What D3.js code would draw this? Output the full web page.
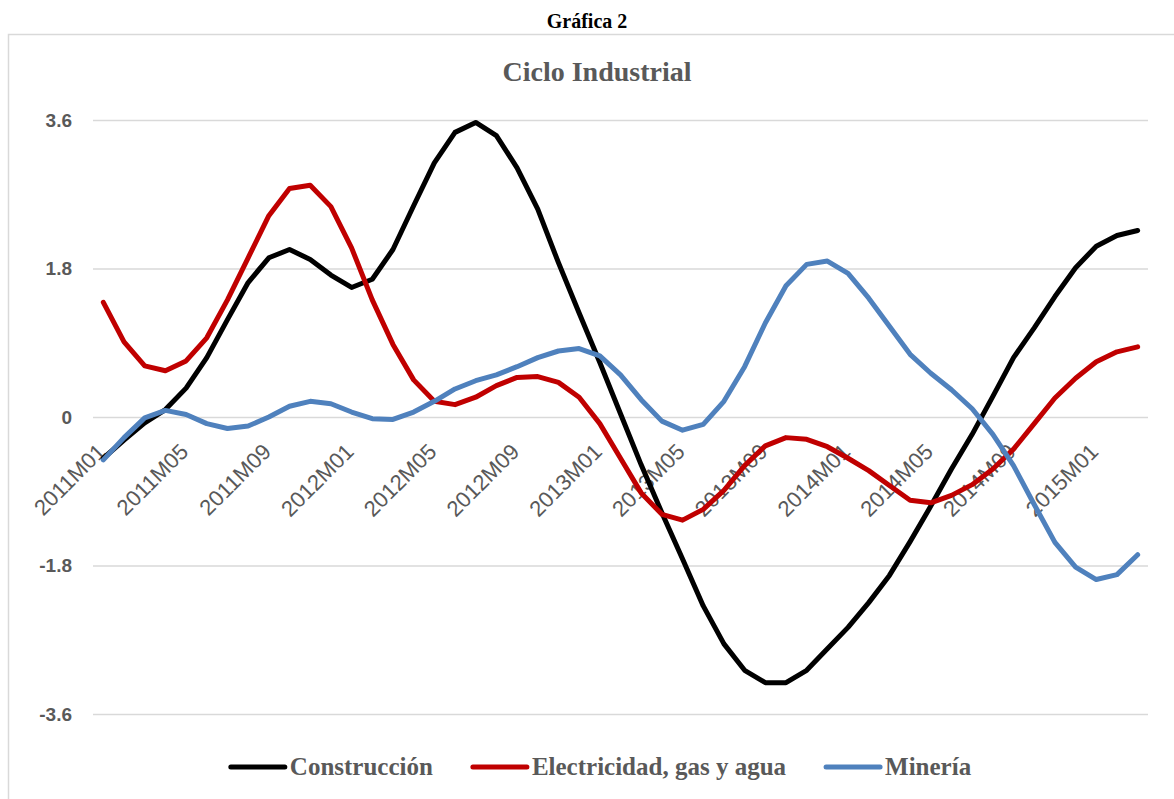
<!DOCTYPE html>
<html>
<head>
<meta charset="utf-8">
<script src="https://d3js.org/d3.v7.min.js"></script>
<style>
  body { margin: 0; background: #fff; }
  svg { display: block; }
</style>
</head>
<body>
<div id="chart"></div>
<script>
// months on the category axis
var months = [
  "2011M01","2011M02","2011M03","2011M04","2011M05","2011M06","2011M07","2011M08","2011M09","2011M10","2011M11","2011M12",
  "2012M01","2012M02","2012M03","2012M04","2012M05","2012M06","2012M07","2012M08","2012M09","2012M10","2012M11","2012M12",
  "2013M01","2013M02","2013M03","2013M04","2013M05","2013M06","2013M07","2013M08","2013M09","2013M10","2013M11","2013M12",
  "2014M01","2014M02","2014M03","2014M04","2014M05","2014M06","2014M07","2014M08","2014M09","2014M10","2014M11","2014M12",
  "2015M01","2015M02","2015M03"
];

var tickLabels = ["2011M01","2011M05","2011M09","2012M01","2012M05","2012M09","2013M01",
                  "2013M05","2013M09","2014M01","2014M05","2014M09","2015M01"];

var yTicks = [-3.6, -1.8, 0, 1.8, 3.6];

var construccion = [
  -0.50,-0.28,-0.07,0.09,0.35,0.72,1.18,1.63,1.93,2.03,1.91,1.72,
  1.57,1.67,2.03,2.56,3.08,3.45,3.57,3.41,3.02,2.52,1.87,1.26,
  0.66,0.04,-0.58,-1.16,-1.72,-2.29,-2.75,-3.07,-3.22,-3.22,-3.07,-2.81,
  -2.55,-2.25,-1.92,-1.51,-1.08,-0.63,-0.21,0.25,0.72,1.08,1.46,1.81,
  2.07,2.20,2.26
];

var electricidad = [
  1.39,0.91,0.62,0.56,0.68,0.96,1.42,1.93,2.44,2.77,2.81,2.55,
  2.05,1.42,0.88,0.45,0.19,0.15,0.24,0.38,0.48,0.49,0.42,0.24,
  -0.08,-0.50,-0.92,-1.18,-1.25,-1.12,-0.89,-0.59,-0.35,-0.25,-0.27,-0.36,
  -0.50,-0.65,-0.83,-1.01,-1.04,-0.95,-0.82,-0.63,-0.39,-0.08,0.23,0.47,
  0.67,0.79,0.85
];

var mineria = [
  -0.52,-0.25,-0.01,0.08,0.03,-0.08,-0.14,-0.11,0.00,0.13,0.19,0.16,
  0.06,-0.02,-0.03,0.06,0.19,0.34,0.44,0.51,0.61,0.72,0.80,0.83,
  0.74,0.51,0.21,-0.05,-0.16,-0.09,0.19,0.61,1.14,1.59,1.85,1.89,
  1.74,1.44,1.10,0.76,0.53,0.33,0.10,-0.21,-0.59,-1.06,-1.52,-1.82,
  -1.97,-1.91,-1.67
];

var seriesNames = ["Construcción", "Electricidad, gas y agua", "Minería"];
var seriesColors = ["#000000", "#C00000", "#4F81BD"];

var series = [construccion, electricidad, mineria].map(function(vals, k) {
  return {
    name: seriesNames[k],
    color: seriesColors[k],
    values: vals.map(function(v, i) { return { m: months[i], v: v }; })
  };
});

var W = 1174, H = 799;
var plotLeft = 93, plotRight = 1148, plotTop = 120, plotBottom = 714;

var svg = d3.select("#chart").append("svg")
  .attr("width", W).attr("height", H);

// chart area frame
svg.append("rect")
  .attr("x", 8.5).attr("y", 34.5)
  .attr("width", W + 20).attr("height", H + 20)
  .attr("fill", "none")
  .attr("stroke", "#D9D9D9")
  .attr("stroke-width", 1.5);

svg.append("text")
  .attr("x", 587).attr("y", 28)
  .attr("text-anchor", "middle")
  .style("font-family", "'Liberation Serif', serif")
  .style("font-weight", "bold")
  .style("font-size", "20px")
  .attr("fill", "#000")
  .text("Gráfica 2");

svg.append("text")
  .attr("x", 597).attr("y", 81)
  .attr("text-anchor", "middle")
  .style("font-family", "'Liberation Serif', serif")
  .style("font-weight", "bold")
  .style("font-size", "28px")
  .attr("fill", "#595959")
  .text("Ciclo Industrial");

var x = d3.scalePoint().domain(months).range([plotLeft, plotRight]).padding(0.5);
var y = d3.scaleLinear().domain([-3.6, 3.6]).range([plotBottom, plotTop]);

// gridlines
var grid = svg.append("g")
  .attr("transform", "translate(" + plotLeft + ",0)")
  .call(d3.axisLeft(y).tickValues(yTicks).tickSize(-(plotRight - plotLeft)).tickFormat(""));
grid.select(".domain").remove();
grid.selectAll("line").attr("stroke", "#D9D9D9").attr("stroke-width", 1.3);

// y labels (plain hyphen for negatives, as in the original)
var yAxis = svg.append("g")
  .attr("transform", "translate(" + plotLeft + ",0)")
  .call(d3.axisLeft(y).tickValues(yTicks).tickSize(0).tickPadding(21)
    .tickFormat(function(d) { return d === 0 ? "0" : d.toFixed(1); }));
yAxis.select(".domain").remove();
yAxis.selectAll("text")
  .style("font-family", "'Liberation Sans', Arial, sans-serif")
  .style("font-weight", "bold")
  .style("font-size", "19px")
  .attr("fill", "#595959");

// x labels, rotated
var xAxis = svg.append("g")
  .attr("transform", "translate(0," + y(0) + ")")
  .call(d3.axisBottom(x).tickValues(tickLabels).tickSize(0));
xAxis.select(".domain").remove();
xAxis.selectAll("text")
  .attr("x", 0).attr("y", 0).attr("dy", 0)
  .attr("transform", "translate(3,36) rotate(-45)")
  .attr("text-anchor", "end")
  .style("font-family", "'Liberation Sans', Arial, sans-serif")
  .style("font-size", "22px")
  .attr("fill", "#595959");

// lines
var line = d3.line()
  .x(function(d) { return x(d.m); })
  .y(function(d) { return y(d.v); });

svg.selectAll(".serie").data(series).enter().append("path")
  .attr("class", "serie")
  .attr("d", function(d) { return line(d.values); })
  .attr("fill", "none")
  .attr("stroke", function(d) { return d.color; })
  .attr("stroke-width", 5)
  .attr("stroke-linejoin", "round")
  .attr("stroke-linecap", "round");

// legend
var legend = svg.append("g");
var lx = 0;
series.forEach(function(s) {
  var item = legend.append("g").attr("transform", "translate(" + lx + ",0)");
  item.append("line")
    .attr("x1", 0).attr("x2", 54).attr("y1", 0).attr("y2", 0)
    .attr("stroke", s.color).attr("stroke-width", 5).attr("stroke-linecap", "round");
  var t = item.append("text")
    .attr("x", 59).attr("y", 8)
    .style("font-family", "'Liberation Serif', serif")
    .style("font-weight", "bold")
    .style("font-size", "25px")
    .attr("fill", "#595959")
    .text(s.name);
  lx += 59 + t.node().getComputedTextLength() + 40;
});
lx -= 40;
legend.attr("transform", "translate(" + (601 - lx / 2) + ",767)");
</script>
</body>
</html>
